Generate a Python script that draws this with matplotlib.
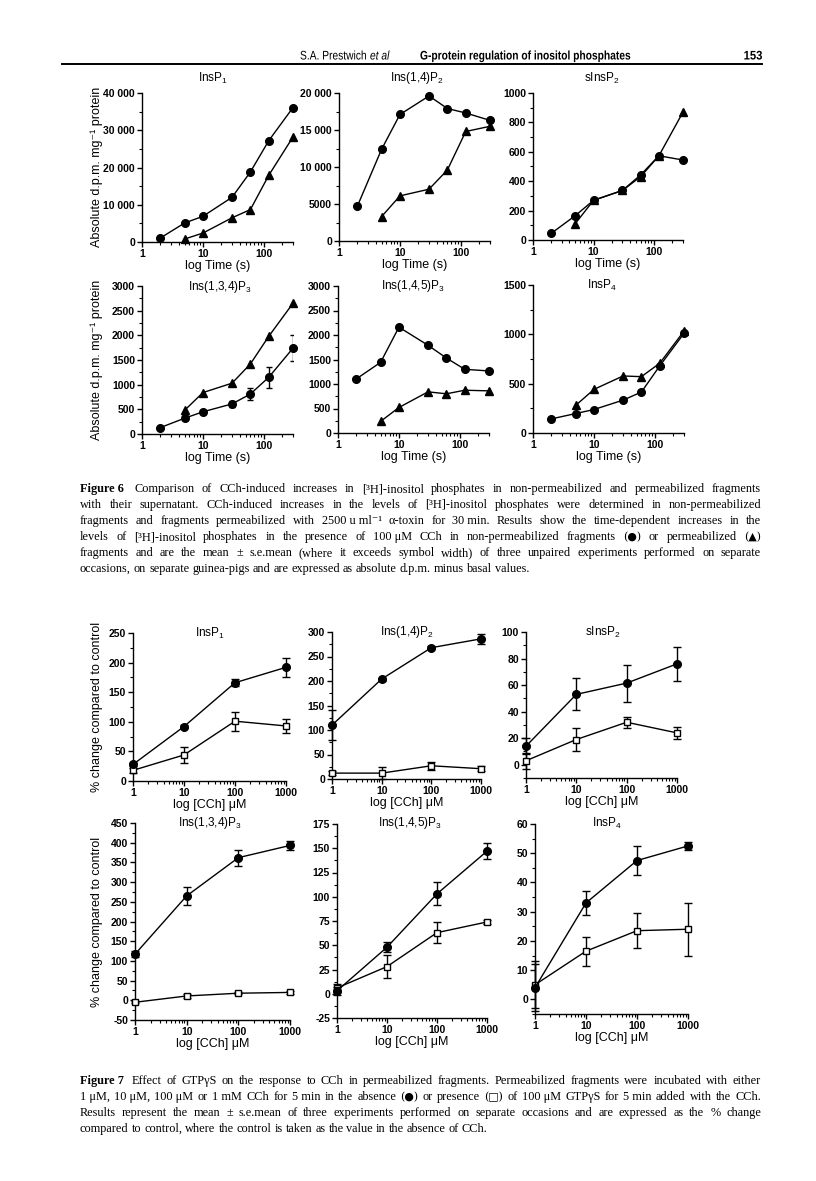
import matplotlib
matplotlib.use('Agg')
import matplotlib.pyplot as plt
from matplotlib import font_manager
from matplotlib.font_manager import FontProperties
from matplotlib.patches import PathPatch
from matplotlib.textpath import TextPath
from matplotlib.transforms import Affine2D
from matplotlib.ticker import MultipleLocator, LogLocator, NullFormatter

W, H = 816, 1181

# ---- Figure 6 data: time course (s) ----
t_circ = [2, 5, 10, 30, 60, 120, 300]
t_tri = [5, 10, 30, 60, 120, 300]

insp1_circ = [1080, 5100, 6900, 12000, 18800, 27200, 36100]
insp1_tri = [800, 2400, 6500, 8700, 17900, 28200]
ins14p2_circ = [4700, 12400, 17100, 19600, 17900, 17300, 16300]
ins14p2_tri = [3300, 6100, 7000, 9600, 14800, 15500]
sinsp2_circ = [45, 166, 270, 337, 443, 573, 544]
sinsp2_tri = [112, 270, 337, 431, 573, 870]
ins134p3_circ = [130, 320, 450, 610, 810, 1150, 1740]
ins134p3_circ_err = [0, 40, 40, 60, 125, 215, 260]
ins134p3_tri = [480, 840, 1030, 1420, 1980, 2650]
ins145p3_circ = [1104, 1442, 2160, 1790, 1530, 1300, 1266]
ins145p3_circ_err = [0, 0, 40, 0, 0, 0, 0]
ins145p3_tri = [237, 521, 840, 800, 873, 860]
insp4_circ = [143, 197, 238, 333, 415, 680, 1010]
insp4_tri = [279, 442, 578, 571, 707, 1033]

# ---- Figure 7 data: CCh concentration (uM) ----
cch = [1, 10, 100, 1000]
g_insp1 = [28, 92, 166, 192];       g_insp1_err = [3, 3, 6, 16]
s_insp1 = [18, 44, 101, 93];        s_insp1_err = [4, 13, 16, 12]
g_ins14p2 = [110, 204, 268, 286];   g_ins14p2_err = [30, 3, 3, 10]
s_ins14p2 = [12, 12, 27, 21];       s_ins14p2_err = [4, 13, 8, 5]
g_sinsp2 = [14, 53, 61.5, 76];      g_sinsp2_err = [6, 12, 14, 13]
s_sinsp2 = [3, 19, 32, 24];         s_sinsp2_err = [6, 9, 4, 4.5]
g_ins134p3 = [117, 265, 362, 393];  g_ins134p3_err = [8, 22, 20, 12]
s_ins134p3 = [-5, 11, 18, 20];      s_ins134p3_err = [3, 5, 3, 3]
g_ins145p3 = [3, 48, 103, 147];     g_ins145p3_err = [4, 5, 12, 8]
s_ins145p3 = [6, 28, 63, 74];       s_ins145p3_err = [4, 12, 11, 2]
g_insp4 = [4, 33, 47.5, 52.5];      g_insp4_err = [8, 4, 5, 1.5]
s_insp4 = [5, 16.5, 23.5, 24];      s_insp4_err = [8, 5, 6, 9]

names = {f.name for f in font_manager.fontManager.ttflist}
NARROW = 'Liberation Sans Narrow' if 'Liberation Sans Narrow' in names else 'Liberation Sans'
SANS = ['Liberation Sans', 'DejaVu Sans']
SERIF_FB = ['Liberation Serif', 'DejaVu Serif']
SYMBOLS = set('\u25cf\u25b2\u25a1')

plt.rcParams['font.family'] = SANS
plt.rcParams['mathtext.fontset'] = 'custom'
plt.rcParams['mathtext.rm'] = 'Liberation Sans'
plt.rcParams['mathtext.it'] = 'Liberation Sans:italic'
plt.rcParams['mathtext.bf'] = 'Liberation Sans:bold'

fig = plt.figure(figsize=(W / 100, H / 100), dpi=100)
renderer = fig.canvas.get_renderer()


def fy(y):
    return 1 - y / H


def add_ax(l, r, t, b):
    return fig.add_axes([l / W, 1 - b / H, (r - l) / W, (b - t) / H])


def style(ax, xlim, xt, ylim, ystep, yfmt, xlabel):
    ax.set_xscale('log')
    ax.set_xlim(*xlim)
    ax.set_ylim(*ylim)
    for s in ['top', 'right']:
        ax.spines[s].set_visible(False)
    for s in ['left', 'bottom']:
        ax.spines[s].set_linewidth(1.0)
    ax.set_xticks(xt)
    ax.set_xticklabels([str(v) for v in xt])
    ax.xaxis.set_minor_locator(LogLocator(base=10, subs=range(2, 10)))
    ax.xaxis.set_minor_formatter(NullFormatter())
    yt = []
    v = 0
    while v <= ylim[1] + 1e-9:
        yt.append(v)
        v += ystep
    v = -ystep
    while v >= ylim[0] - 1e-9:
        yt.insert(0, v)
        v -= ystep
    ax.set_yticks(yt)
    ax.set_yticklabels([yfmt(v) for v in yt])
    ax.yaxis.set_minor_locator(MultipleLocator(ystep / 2))
    ax.tick_params(which='major', direction='out', length=3.5, width=1.0,
                   pad=1.5, labelsize=7.5)
    ax.tick_params(which='minor', direction='out', length=2, width=0.8)
    for lab in ax.get_xticklabels() + ax.get_yticklabels():
        lab.set_fontweight('bold')
        lab.set_family(NARROW)
    ax.set_xlabel(xlabel, fontsize=9, labelpad=1)
    ax.patch.set_alpha(0)


def thou(v):
    v = int(v)
    if abs(v) >= 10000:
        return f'{v:,}'.replace(',', ' ')
    return str(v)


def fig6_panel(box, title, tpos, ylim, ystep, circ, tri, circ_err=None):
    ax = add_ax(*box)
    style(ax, (1, 300), [1, 10, 100], ylim, ystep, thou, 'log Time (s)')
    ax.plot(t_circ, circ, color='black', lw=1.0, marker='o', ms=5.5, zorder=3,
            clip_on=False)
    ax.plot(t_tri, tri, color='black', lw=1.0, marker='^', ms=6, zorder=3,
            clip_on=False)
    if circ_err:
        ax.errorbar(t_circ, circ, yerr=circ_err, fmt='none', ecolor='black',
                    elinewidth=1.0, capsize=2.5, capthick=1.0, zorder=2)
    fig.text(tpos[0] / W, fy(tpos[1]), title, fontsize=8.5, ha='center',
             va='center')
    return ax


def fig7_panel(box, title, tpos, ylim, ystep, g, ge, s, se):
    ax = add_ax(*box)
    style(ax, (1, 1000), [1, 10, 100, 1000], ylim, ystep,
          lambda v: str(int(v)), 'log [CCh] \u03bcM')
    ax.errorbar(cch, s, yerr=se, color='black', lw=1.0, marker='s', ms=4.8,
                mfc='white', mec='black', mew=1.0, capsize=2.8, capthick=1.0,
                elinewidth=1.0, zorder=3, clip_on=False)
    ax.errorbar(cch, g, yerr=ge, color='black', lw=1.0, marker='o', ms=5.5,
                capsize=2.8, capthick=1.0, elinewidth=1.0, zorder=4,
                clip_on=False)
    fig.text(tpos[0] / W, fy(tpos[1]), title, fontsize=8.5, ha='center',
             va='center')
    return ax


def narrow_text(x, y, s, size=9, weight='normal', style='normal', sx=0.82,
                align='left'):
    """Draw horizontally condensed header text; x, y in pixels (baseline)."""
    fp = FontProperties(family='Liberation Sans', weight=weight, style=style)
    path = TextPath((0, 0), s, size=size * 100 / 72, prop=fp)
    width = path.get_extents().x1 * sx
    if align == 'right':
        x = x - width
    patch = PathPatch(path, color='black', lw=0,
                      transform=Affine2D().scale(sx, 1).translate(x, H - y))
    fig.add_artist(patch)
    return x + width


# ---- header ----
x = narrow_text(300, 59.5, 'S.A. Prestwich')
narrow_text(x + 4, 59.5, 'et al', style='italic')
narrow_text(420, 59.5, 'G-protein regulation of inositol phosphates',
            weight='bold')
narrow_text(762, 59.5, '153', weight='bold', align='right', sx=0.9)
fig.add_artist(plt.Line2D([62 / W, 762 / W], [fy(63.5), fy(63.5)],
                          color='black', lw=1.4))

# ---- Figure 6 ----
fig6_panel((142, 293, 93, 242), 'InsP$_1$', (213, 78), (0, 40000), 10000,
           insp1_circ, insp1_tri)
fig6_panel((339, 490, 93, 241), 'Ins(1,4)P$_2$', (417, 78), (0, 20000), 5000,
           ins14p2_circ, ins14p2_tri)
fig6_panel((533, 683, 93, 240), 'sInsP$_2$', (602, 78), (0, 1000), 200,
           sinsp2_circ, sinsp2_tri)
fig6_panel((142, 293, 286, 434), 'Ins(1,3,4)P$_3$', (220, 287), (0, 3000), 500,
           ins134p3_circ, ins134p3_tri, ins134p3_circ_err)
fig6_panel((338, 489, 286, 433), 'Ins(1,4,5)P$_3$', (413, 286), (0, 3000), 500,
           ins145p3_circ, ins145p3_tri, ins145p3_circ_err)
fig6_panel((533, 684, 285, 433), 'InsP$_4$', (602, 285), (0, 1500), 500,
           insp4_circ, insp4_tri)

for yc in (167, 360):
    fig.text(97 / W, fy(yc), 'Absolute d.p.m. mg\u207b\u00b9 protein',
             fontsize=9, rotation=90, ha='center', va='center')

# ---- Figure 7 ----
fig7_panel((133, 286, 633, 781), 'InsP$_1$', (210, 633), (0, 250), 50,
           g_insp1, g_insp1_err, s_insp1, s_insp1_err)
fig7_panel((332, 481, 632, 779), 'Ins(1,4)P$_2$', (407, 632), (0, 300), 50,
           g_ins14p2, g_ins14p2_err, s_ins14p2, s_ins14p2_err)
fig7_panel((526, 677, 632, 778), 'sInsP$_2$', (603, 632), (-10, 100), 20,
           g_sinsp2, g_sinsp2_err, s_sinsp2, s_sinsp2_err)
fig7_panel((135, 290, 823, 1020), 'Ins(1,3,4)P$_3$', (210, 823), (-50, 450), 50,
           g_ins134p3, g_ins134p3_err, s_ins134p3, s_ins134p3_err)
fig7_panel((337, 487, 824, 1018), 'Ins(1,4,5)P$_3$', (410, 823), (-25, 175), 25,
           g_ins145p3, g_ins145p3_err, s_ins145p3, s_ins145p3_err)
fig7_panel((535, 688, 824, 1014), 'InsP$_4$', (607, 823), (-5, 60), 10,
           g_insp4, g_insp4_err, s_insp4, s_insp4_err)

for yc in (707, 922):
    fig.text(97 / W, fy(yc), '% change compared to control', fontsize=9,
             rotation=90, ha='center', va='center')

# ---- captions (justified by hand) ----
cap6 = [
    'Comparison of CCh-induced increases in [\u00b3H]-inositol phosphates in non-permeabilized and permeabilized fragments',
    'with their supernatant. CCh-induced increases in the levels of [\u00b3H]-inositol phosphates were determined in non-permeabilized',
    'fragments and fragments permeabilized with 2500\u2009u\u2009ml\u207b\u00b9 \u03b1-toxin for 30\u2009min. Results show the time-dependent increases in the',
    'levels of [\u00b3H]-inositol phosphates in the presence of 100\u2009\u03bcM CCh in non-permeabilized fragments (\u25cf) or permeabilized (\u25b2)',
    'fragments and are the mean \u00b1 s.e.mean (where it exceeds symbol width) of three unpaired experiments performed on separate',
    'occasions, on separate guinea-pigs and are expressed as absolute d.p.m. minus basal values.',
]
cap7 = [
    'Effect of GTP\u03b3S on the response to CCh in permeabilized fragments. Permeabilized fragments were incubated with either',
    '1\u2009\u03bcM, 10\u2009\u03bcM, 100\u2009\u03bcM or 1\u2009mM CCh for 5\u2009min in the absence (\u25cf) or presence (\u25a1) of 100\u2009\u03bcM GTP\u03b3S for 5\u2009min added with the CCh.',
    'Results represent the mean \u00b1 s.e.mean of three experiments performed on separate occasions and are expressed as the % change',
    'compared to control, where the control is taken as the value in the absence of CCh.',
]


def caption(lines, label, y0, step=16.0, x0=80, x1=761, size=8.8):
    for i, line in enumerate(lines):
        y = y0 + i * step
        words = [w.replace('\u2009', ' ') for w in line.split(' ')]
        items = []
        if i == 0:
            items.append(fig.text(0, fy(y), label, fontsize=size,
                                  family='Liberation Serif', weight='bold',
                                  va='baseline'))
        for w in words:
            if set(w) & SYMBOLS:
                fam, fs = 'DejaVu Serif', size - 1
            elif '\u207b' in w:
                fam, fs = SERIF_FB, size
            else:
                fam, fs = 'Liberation Serif', size
            items.append(fig.text(0, fy(y), w, fontsize=fs, family=fam,
                                  va='baseline'))
        widths = [t.get_window_extent(renderer).width for t in items]
        if i == len(lines) - 1:
            gap = 3.0
        else:
            gap = (x1 - x0 - sum(widths)) / (len(items) - 1)
        x = x0
        for t, w in zip(items, widths):
            t.set_x(x / W)
            x += w + gap


caption(cap6, 'Figure 6 ', 492)
caption(cap7, 'Figure 7 ', 1084)

fig.savefig('out.png', dpi=100)
